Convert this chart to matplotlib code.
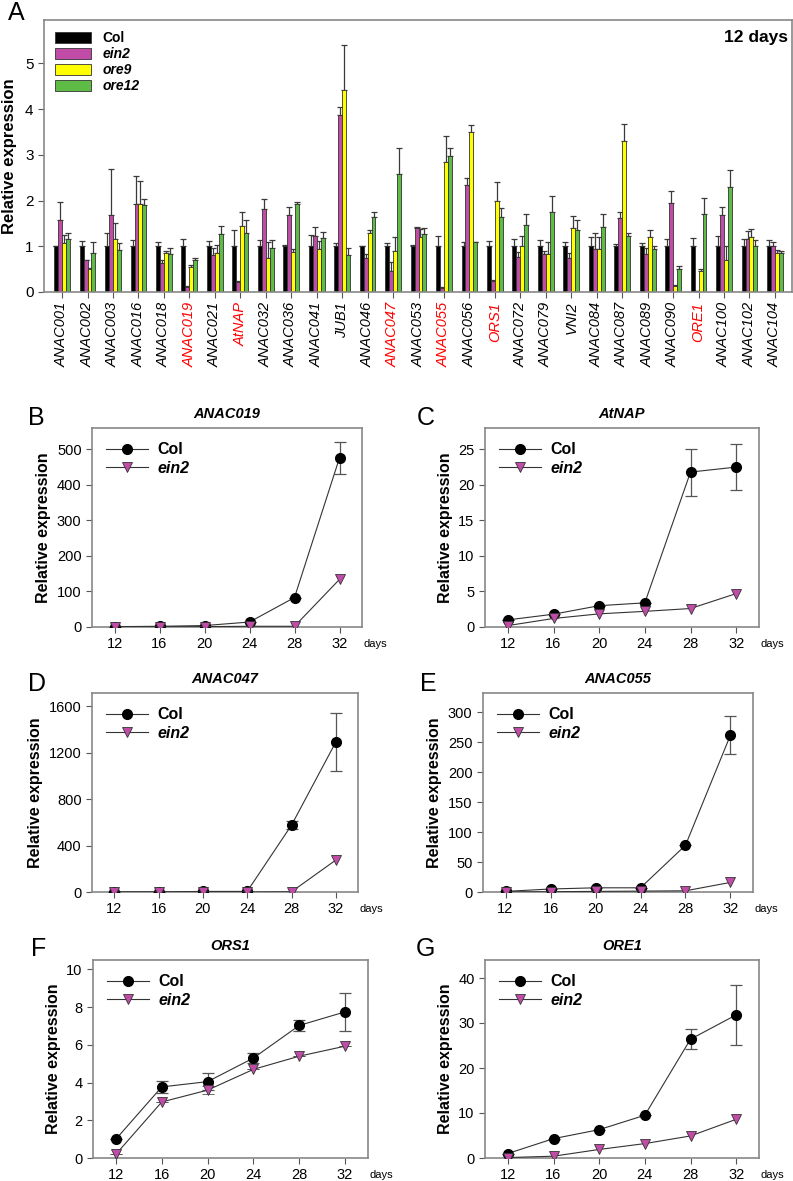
import numpy as np
import matplotlib
matplotlib.use('Agg')
import matplotlib.pyplot as plt
from matplotlib.patches import Patch
from matplotlib.lines import Line2D

plt.rcParams['font.family'] = ['Liberation Sans', 'DejaVu Sans']

W, H = 793, 1181

# ---------------- panel A data (12 days) ----------------
genes = ['ANAC001', 'ANAC002', 'ANAC003', 'ANAC016', 'ANAC018', 'ANAC019', 'ANAC021',
         'AtNAP', 'ANAC032', 'ANAC036', 'ANAC041', 'JUB1', 'ANAC046', 'ANAC047',
         'ANAC053', 'ANAC055', 'ANAC056', 'ORS1', 'ANAC072', 'ANAC079', 'VNI2',
         'ANAC084', 'ANAC087', 'ANAC089', 'ANAC090', 'ORE1', 'ANAC100', 'ANAC102', 'ANAC104']
red_genes = ['ANAC019', 'AtNAP', 'ANAC047', 'ANAC055', 'ORS1', 'ORE1']

col_val = [1.0] * 29
col_err = [0.0, 0.12, 0.29, 0.14, 0.10, 0.16, 0.12, 0.36, 0.14, 0.03, 0.25, 0.07, 0.0, 0.07,
           0.03, 0.23, 0.10, 0.12, 0.16, 0.14, 0.10, 0.21, 0.05, 0.08, 0.15, 0.18, 0.23, 0.17, 0.14]
ein2_val = [1.57, 0.69, 1.69, 1.93, 0.64, 0.12, 0.80, 0.22, 1.81, 1.69, 1.22, 3.88, 0.75, 0.46,
            1.41, 0.09, 2.33, 0.25, 0.77, 0.83, 0.75, 0.94, 1.62, 0.83, 1.95, 0.02, 1.69, 1.15, 1.01]
ein2_err = [0.40, 0.02, 0.99, 0.61, 0.06, 0.02, 0.16, 0.02, 0.22, 0.16, 0.21, 0.16, 0.08, 0.19,
            0.01, 0.01, 0.17, 0.01, 0.10, 0.06, 0.11, 0.36, 0.14, 0.13, 0.27, 0.0, 0.17, 0.18, 0.09]
ore9_val = [1.07, 0.51, 1.16, 1.93, 0.85, 0.54, 0.86, 1.45, 0.75, 0.88, 0.94, 4.42, 1.29, 0.90,
            1.21, 2.84, 3.49, 1.99, 1.00, 0.83, 1.41, 0.93, 3.31, 1.21, 0.14, 0.46, 0.69, 1.21, 0.86]
ore9_err = [0.18, 0.02, 0.36, 0.50, 0.05, 0.04, 0.17, 0.29, 0.34, 0.05, 0.18, 0.98, 0.07, 0.30,
            0.17, 0.58, 0.17, 0.42, 0.22, 0.27, 0.26, 0.28, 0.36, 0.15, 0.01, 0.05, 0.31, 0.17, 0.06]
ore12_val = [1.15, 0.86, 0.91, 1.91, 0.84, 0.69, 1.26, 1.29, 0.96, 1.93, 1.19, 0.82, 1.63, 2.58,
             1.27, 2.98, 1.09, 1.63, 1.47, 1.75, 1.35, 1.42, 1.23, 0.95, 0.51, 1.70, 2.30, 1.00, 0.86]
ore12_err = [0.15, 0.23, 0.16, 0.12, 0.12, 0.05, 0.18, 0.29, 0.17, 0.04, 0.12, 0.14, 0.11, 0.56,
             0.13, 0.16, 0.01, 0.20, 0.23, 0.35, 0.22, 0.28, 0.06, 0.05, 0.05, 0.35, 0.36, 0.14, 0.04]

lines_A = ['Col', 'ein2', 'ore9', 'ore12']
colors_A = ['#000000', '#C04CA8', '#FFFF00', '#5DBB46']

# ---------------- time course data ----------------
days = [12, 16, 20, 24, 28, 32]

anac019_col = [1, 2, 4, 14, 83, 476]
anac019_col_err = [0, 0, 0, 0, 0, 46]
anac019_ein2 = [0, 0.5, 1, 2, 2, 134]

atnap_col = [1.0, 1.8, 3.0, 3.4, 21.8, 22.5]
atnap_col_err = [0, 0, 0, 0, 3.3, 3.2]
atnap_ein2 = [0.2, 1.2, 1.85, 2.2, 2.6, 4.7]

anac047_col = [0, 0, 5, 5, 575, 1290]
anac047_col_err = [0, 0, 0, 0, 35, 250]
anac047_ein2 = [0, 0, 0, 0, 2, 275]

anac055_col = [1, 5, 7, 7, 78, 262]
anac055_col_err = [0, 0, 0, 0, 0, 32]
anac055_ein2 = [0, 0.5, 1, 1.5, 2, 16]

ors1_col = [1.0, 3.77, 4.05, 5.3, 7.03, 7.75]
ors1_col_err = [0, 0.33, 0.45, 0.25, 0.28, 1.0]
ors1_ein2 = [0.2, 2.97, 3.6, 4.7, 5.4, 5.93]
ors1_ein2_err = [0, 0, 0.2, 0, 0, 0]

ore1_col = [1.0, 4.3, 6.3, 9.5, 26.4, 31.8]
ore1_col_err = [0, 0, 0, 0, 2.25, 6.75]
ore1_ein2 = [0.1, 0.4, 1.9, 3.2, 4.9, 8.6]


def px(l, t, r, b):
    return [l / W, 1 - b / H, (r - l) / W, (b - t) / H]


fig = plt.figure(figsize=(W / 100, H / 100), dpi=100)

# ---------------- panel A ----------------
axA = fig.add_axes(px(44, 20, 792, 292))
x = np.arange(len(genes))
bw = 0.155
vals = [col_val, ein2_val, ore9_val, ore12_val]
errs = [col_err, ein2_err, ore9_err, ore12_err]
for i in range(4):
    xi = x + (i - 1.5) * bw
    axA.bar(xi, vals[i], width=bw, color=colors_A[i], edgecolor='#333333', linewidth=0.6,
            label=lines_A[i], zorder=2)
    e = np.array(errs[i])
    axA.errorbar(xi, vals[i], yerr=[np.zeros_like(e), e], fmt='none', ecolor='#3a3a3a',
                 elinewidth=0.9, capsize=2, capthick=0.9, zorder=1)
axA.set_xlim(-0.71, 28.67)
axA.set_ylim(0, 5.95)
axA.set_yticks([0, 1, 2, 3, 4, 5])
axA.set_xticks(x)
axA.set_xticklabels(genes, rotation=90, style='italic', fontsize=10.5)
for lab in axA.get_xticklabels():
    if lab.get_text() in red_genes:
        lab.set_color('red')
axA.tick_params(axis='both', direction='out', length=4, width=0.8, color='#555555',
                labelsize=11)
axA.tick_params(axis='x', labelsize=10.5, pad=3)
axA.set_ylabel('Relative expression', fontsize=12, fontweight='bold', labelpad=6)
for s in axA.spines.values():
    s.set_color('#888888')
    s.set_linewidth(1.2)
handles = [Patch(facecolor=c, edgecolor='#333333', linewidth=0.6) for c in colors_A]
legA = axA.legend(handles, lines_A, loc='upper left', frameon=False, fontsize=10,
                  handlelength=2.6, handleheight=0.8, labelspacing=0.15,
                  borderaxespad=0.4, handletextpad=0.8)
for i, t in enumerate(legA.get_texts()):
    t.set_fontweight('bold')
    if i > 0:
        t.set_style('italic')
axA.text(0.995, 0.965, '12 days', transform=axA.transAxes, ha='right', va='top',
         fontsize=12.5, fontweight='bold')
fig.text(8 / W, 1 - 13 / H, 'A', fontsize=18, ha='left', va='center')


# ---------------- time course panels ----------------
def time_panel(rect, title, letter, letter_xy, col, col_err, ein2, ein2_err, ymax, yticks):
    ax = fig.add_axes(px(*rect))
    ax.errorbar(days, col, yerr=col_err, color='#333333', lw=0.8, marker='o', ms=7,
                mfc='black', mec='black', ecolor='#555555', elinewidth=0.9, capsize=4,
                capthick=0.9, zorder=3)
    ax.errorbar(days, ein2, yerr=ein2_err, color='#333333', lw=0.8, marker='v', ms=7,
                mfc='#C04CA8', mec='#333333', mew=0.6, ecolor='#555555', elinewidth=0.9,
                capsize=4, capthick=0.9, zorder=3)
    ax.set_xlim(10, 34)
    ax.set_ylim(0, ymax)
    ax.set_xticks(days)
    ax.set_yticks(yticks)
    ax.tick_params(axis='both', direction='out', length=4, width=0.8, color='#555555',
                   labelsize=10.5)
    for s in ax.spines.values():
        s.set_color('#888888')
        s.set_linewidth(1.2)
    ax.set_ylabel('Relative expression', fontsize=11.5, fontweight='bold')
    ax.set_title(title, fontsize=10.5, fontweight='bold', style='italic', pad=7)
    ax.text(1.005, -0.085, 'days', transform=ax.transAxes, fontsize=8, ha='left', va='center')
    hs = [Line2D([], [], color='#333333', lw=0.8, marker='o', ms=7, mfc='black', mec='black'),
          Line2D([], [], color='#333333', lw=0.8, marker='v', ms=7, mfc='#C04CA8',
                 mec='#333333', mew=0.6)]
    leg = ax.legend(hs, ['Col', 'ein2'], loc='upper left', frameon=False, fontsize=11.5,
                    handlelength=2.6, labelspacing=0.2, borderaxespad=0.5, handletextpad=0.6)
    leg.get_texts()[0].set_fontweight('bold')
    leg.get_texts()[1].set_fontweight('bold')
    leg.get_texts()[1].set_style('italic')
    fig.text(letter_xy[0] / W, 1 - letter_xy[1] / H, letter, fontsize=18, ha='left',
             va='center')
    return ax


time_panel((92, 428, 362, 627), 'ANAC019', 'B', (28, 418), anac019_col, anac019_col_err,
           anac019_ein2, None, 560, [0, 100, 200, 300, 400, 500])
time_panel((485, 428, 759, 627), 'AtNAP', 'C', (417, 418), atnap_col, atnap_col_err,
           atnap_ein2, None, 28, [0, 5, 10, 15, 20, 25])
time_panel((92, 693, 358, 892), 'ANAC047', 'D', (28, 684), anac047_col, anac047_col_err,
           anac047_ein2, None, 1712, [0, 400, 800, 1200, 1600])
time_panel((483, 693, 753, 892), 'ANAC055', 'E', (420, 684), anac055_col, anac055_col_err,
           anac055_ein2, None, 332, [0, 50, 100, 150, 200, 250, 300])
time_panel((93, 960, 368, 1158), 'ORS1', 'F', (31, 949), ors1_col, ors1_col_err,
           ors1_ein2, ors1_ein2_err, 10.5, [0, 2, 4, 6, 8, 10])
time_panel((485, 960, 759, 1158), 'ORE1', 'G', (416, 949), ore1_col, ore1_col_err,
           ore1_ein2, None, 44, [0, 10, 20, 30, 40])

fig.savefig('out.png', dpi=100)
